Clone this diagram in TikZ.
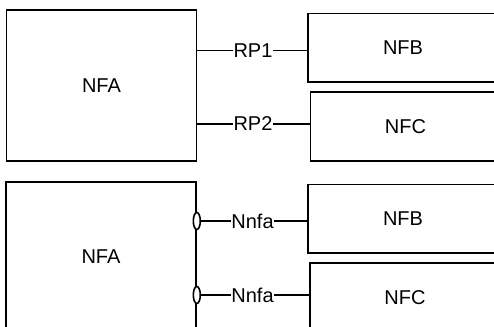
\documentclass[tikz,border=0pt]{standalone}
\usepackage{fontspec}
\setmainfont{Liberation Sans}
\usetikzlibrary{shapes.geometric, positioning}

\begin{document}
\begin{tikzpicture}[x=1pt, y=-1pt,
    nfbox/.style={draw, line width=1.6pt, minimum width=190pt, inner sep=0pt, font=\fontsize{20}{24}\selectfont},
    ifname/.style={inner sep=0pt, font=\fontsize{20}{24}\selectfont},
    port/.style={draw, ellipse, line width=1.6pt, fill=white, minimum width=7pt, minimum height=17pt, inner sep=0pt},
    link/.style={line width=1.6pt}
]
    \clip (0,0) rectangle (494,326);

    % reference points
    \node[nfbox, minimum height=151pt] (nfaTop) at (101.5,85.5) {NFA};
    \node[nfbox, minimum height=68.5pt] (nfbTop) at (403,47.75) {NFB};
    \node[nfbox, minimum height=69pt] (nfcTop) at (405.5,126.5) {NFC};

    \node[ifname] (rpOne) at (253,50.5) {RP1};
    \node[ifname] (rpTwo) at (253,124) {RP2};

    \draw[link] (rpOne.west -| nfaTop.east) -- (rpOne.west);
    \draw[link] (rpOne.east) -- (rpOne.east -| nfbTop.west);
    \draw[link] (rpTwo.west -| nfaTop.east) -- (rpTwo.west);
    \draw[link] (rpTwo.east) -- (rpTwo.east -| nfcTop.west);

    % service interfaces
    \node[nfbox, minimum height=149pt] (nfaBot) at (101,256.5) {NFA};
    \node[nfbox, minimum height=68.5pt] (nfbBot) at (403,218.75) {NFB};
    \node[nfbox, minimum height=69pt] (nfcBot) at (405,297.5) {NFC};

    \node[ifname] (nnfaB) at (252.5,221) {Nnfa};
    \node[ifname] (nnfaC) at (252.5,295) {Nnfa};

    \node[port] (portB) at (nfaBot.east |- nnfaB) {};
    \node[port] (portC) at (nfaBot.east |- nnfaC) {};

    \draw[link] (portB.east) -- (nnfaB.west);
    \draw[link] (nnfaB.east) -- (nnfaB.east -| nfbBot.west);
    \draw[link] (portC.east) -- (nnfaC.west);
    \draw[link] (nnfaC.east) -- (nnfaC.east -| nfcBot.west);
\end{tikzpicture}
\end{document}
